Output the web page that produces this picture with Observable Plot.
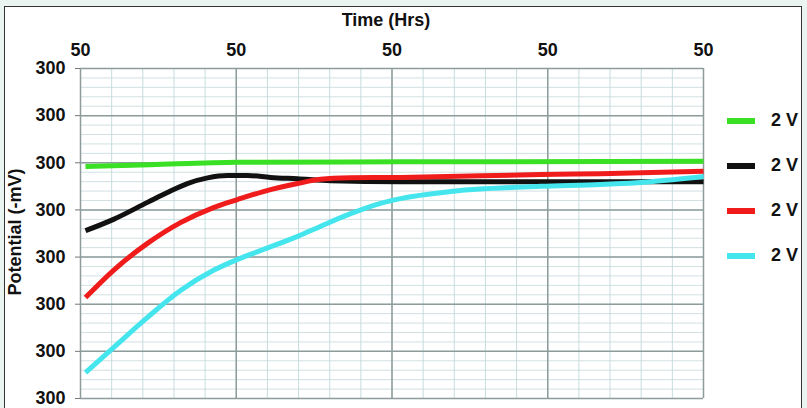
<!DOCTYPE html>
<html><head><meta charset="utf-8">
<script src="https://cdn.jsdelivr.net/npm/d3@7"></script>
<script src="https://cdn.jsdelivr.net/npm/@observablehq/plot@0.6"></script>
<style>
html,body{margin:0;padding:0;}
body{width:807px;height:408px;background:#eaf4f1;position:relative;overflow:hidden;font-family:"Liberation Sans",Arial,sans-serif;}
#box{position:absolute;left:4px;top:6px;width:796px;height:420px;background:#fff;border:1.5px solid #333;}
#chart{position:absolute;left:0;top:0;}
#title{position:absolute;left:386px;top:20px;transform:translate(-50%,-50%);white-space:nowrap;font-weight:bold;font-size:18px;color:#111;}
#ylab{position:absolute;left:15px;top:232px;transform:translate(-50%,-50%) rotate(-90deg);white-space:nowrap;font-weight:bold;font-size:18px;color:#111;}
#legend{position:absolute;left:727px;top:98px;}
.item{height:45px;display:flex;align-items:center;}
.sw{width:28px;height:6px;margin-right:16px;}
.lb{font-weight:bold;font-size:18px;color:#111;}
</style></head>
<body>
<div id="box"></div>
<div id="chart"></div>
<div id="title">Time (Hrs)</div>
<div id="ylab">Potential (-mV)</div>
<div id="legend"></div>
<script>
const xTicks = [0, 50, 100, 150, 200];
const xTickLabels = ["50", "50", "50", "50", "50"];
const yTicks = [0, 1, 2, 3, 4, 5, 6, 7];
const yTickLabels = ["300", "300", "300", "300", "300", "300", "300", "300"];

const seriesNames = ["2 V", "2 V", "2 V", "2 V"];
const seriesColors = ["#3ae024", "#111111", "#f01c1c", "#45e5ee"];

const greenX = [1.6, 22.5, 50.4, 102.7, 200];
const greenY = [4.92, 4.96, 5.01, 5.02, 5.03];

const blackX = [1.6, 10.6, 21.5, 27.9, 34.3, 40.8, 47.2, 53.6, 61.0, 69.7, 80.3, 102.7, 200];
const blackY = [3.56, 3.80, 4.16, 4.37, 4.56, 4.68, 4.73, 4.73, 4.69, 4.66, 4.62, 4.60, 4.60];

const redX = [1.6, 10.6, 21.5, 32.1, 42.7, 50.4, 58.7, 69.7, 77.0, 86.7, 102.7, 147.7, 166.9, 200];
const redY = [2.14, 2.72, 3.29, 3.73, 4.05, 4.22, 4.39, 4.56, 4.65, 4.68, 4.69, 4.75, 4.77, 4.82];

const cyanX = [1.6, 10.6, 21.5, 32.1, 42.7, 50.4, 58.7, 69.7, 77.0, 86.7, 96.3, 102.7, 118.8, 147.7, 166.9, 183.0, 200];
const cyanY = [0.55, 1.08, 1.72, 2.29, 2.72, 2.95, 3.16, 3.44, 3.65, 3.92, 4.14, 4.24, 4.39, 4.50, 4.54, 4.60, 4.71];

const seriesX = [greenX, blackX, redX, cyanX];
const seriesY = [greenY, blackY, redY, cyanY];
const data = seriesX.flatMap((xs, s) => xs.map((x, i) => ({s, x, y: seriesY[s][i]})));

const plot = Plot.plot({
  width: 807, height: 408,
  marginLeft: 80, marginRight: 104, marginTop: 68, marginBottom: 10,
  style: {background: "transparent", fontFamily: "Liberation Sans, Arial, sans-serif", color: "#111"},
  x: {domain: [0, 200]},
  y: {domain: [0, 7]},
  marks: [
    Plot.gridX(d3.range(0, 201, 10), {stroke: "#b9d3d6", strokeOpacity: 0.8, strokeWidth: 1}),
    Plot.gridY(d3.range(0, 7.001, 0.2), {stroke: "#c5d8da", strokeOpacity: 0.8, strokeWidth: 1}),
    Plot.gridX(xTicks, {stroke: "#8d9b9b", strokeOpacity: 1, strokeWidth: 1.5}),
    Plot.gridY(yTicks, {stroke: "#8d9b9b", strokeOpacity: 1, strokeWidth: 1.5}),
    Plot.axisX({anchor: "top", ticks: xTicks, tickFormat: (d, i) => xTickLabels[i], tickSize: 0, tickPadding: 13, fontSize: 18, fontWeight: "bold", label: null}),
    Plot.axisY({anchor: "left", ticks: yTicks, tickFormat: (d, i) => yTickLabels[i], tickSize: 5, tickPadding: 10, fontSize: 18, fontWeight: "bold", stroke: "#777", label: null}),
    Plot.line(data, {x: "x", y: "y", z: "s", stroke: d => seriesColors[d.s], strokeWidth: 5, curve: "monotone-x", strokeLinecap: "butt"})
  ]
});
document.getElementById("chart").appendChild(plot);

const legend = document.getElementById("legend");
seriesNames.forEach((n, i) => {
  const row = document.createElement("div"); row.className = "item";
  const sw = document.createElement("div"); sw.className = "sw"; sw.style.background = seriesColors[i];
  const lb = document.createElement("div"); lb.className = "lb"; lb.textContent = n;
  row.appendChild(sw); row.appendChild(lb); legend.appendChild(row);
});
</script>
</body></html>
